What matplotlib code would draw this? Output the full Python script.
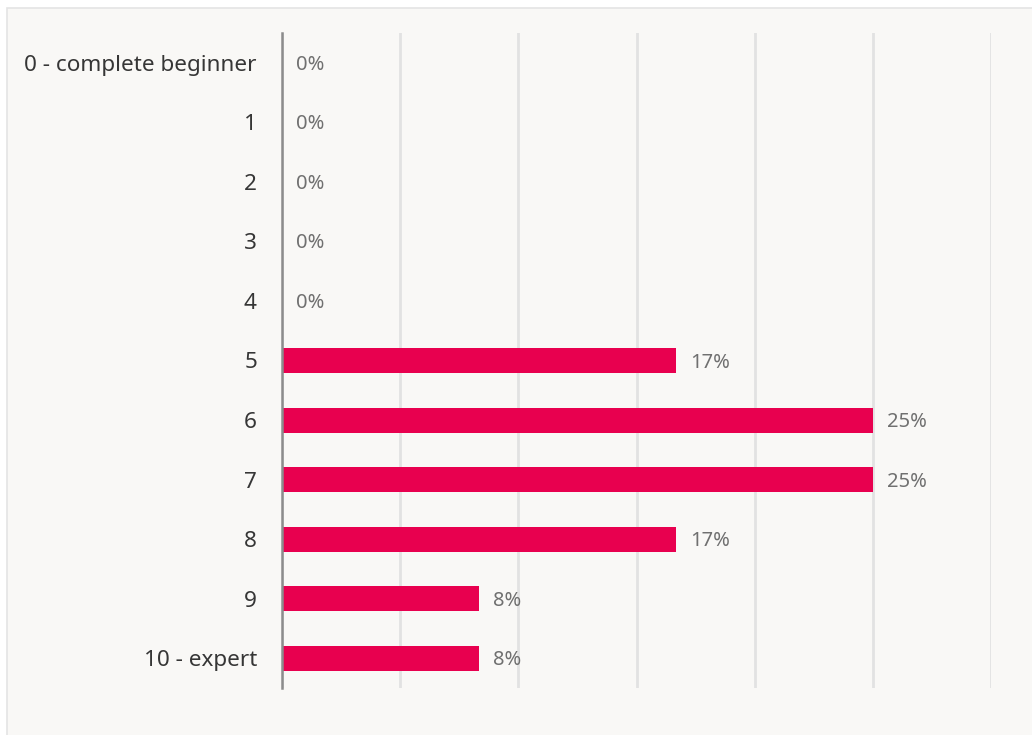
import matplotlib
matplotlib.use("Agg")
import matplotlib.pyplot as plt
from matplotlib.patches import Rectangle

categories = ["0 - complete beginner", "1", "2", "3", "4", "5", "6", "7", "8", "9", "10 - expert"]
shares = [0, 0, 0, 0, 0, 16.67, 25.0, 25.0, 16.67, 8.33, 8.33]
value_labels = ["0%", "0%", "0%", "0%", "0%", "17%", "25%", "25%", "17%", "8%", "8%"]
x_ticks = [0, 5, 10, 15, 20, 25, 30]

plt.rcParams["font.family"] = ["Noto Sans", "DejaVu Sans"]

W, H = 1032, 735
fig = plt.figure(figsize=(W / 100, H / 100), dpi=100, facecolor="white")

# panel background, running off the right and bottom edges
fig.patches.append(Rectangle((6.5 / W, -0.1), 1.2, 1.1 - 8.5 / H,
                             transform=fig.transFigure, facecolor="#f9f8f6",
                             edgecolor="#e4e4e4", linewidth=1.2, zorder=-10))

ax = fig.add_axes([282 / W, (H - 688) / H, (991 - 282) / W, (688 - 33) / H])
ax.set_facecolor("none")
ax.set_zorder(5)

n = len(categories)
ys = list(range(n))
ax.barh(ys, shares, height=0.42, color="#e8004f", zorder=3)

ax.set_xlim(0, 30)
ax.set_ylim(n - 0.5, -0.5)
ax.set_xticks(x_ticks)
ax.tick_params(axis="x", length=0, labelbottom=False)
ax.tick_params(axis="y", length=0, pad=18, labelsize=16.2, labelcolor="#363636")
ax.set_yticks(ys)
ax.set_yticklabels(categories)
ax.grid(axis="x", color="#e2e2e2", linewidth=2, zorder=1)
for s in ["top", "right", "bottom"]:
    ax.spines[s].set_visible(False)
ax.spines["left"].set_color("#8c8c8c")
ax.spines["left"].set_linewidth(1.8)
ax.spines["left"].set_zorder(4)

for y, v, t in zip(ys, shares, value_labels):
    ax.annotate(t, (v, y), xytext=(14, -2), textcoords="offset pixels",
                ha="left", va="center", fontsize=14.5, color="#707070")

fig.savefig("out.png", dpi=100, facecolor="white")
